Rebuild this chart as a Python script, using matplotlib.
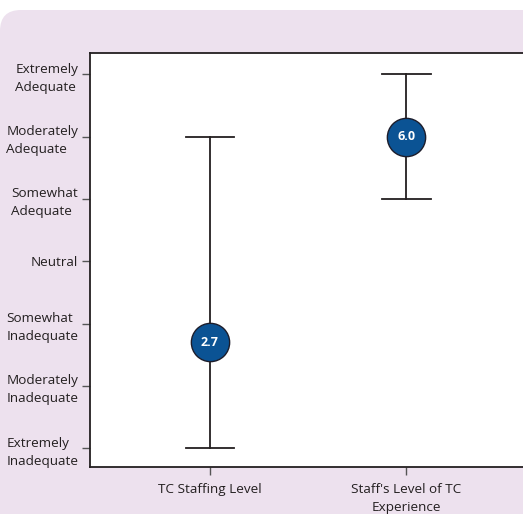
import matplotlib.pyplot as plt
from matplotlib.patches import FancyBboxPatch

categories = ["TC Staffing Level", "Staff's Level of TC\nExperience"]
means = [2.7, 6.0]
lows = [1.0, 5.0]
highs = [6.0, 7.0]
tick_values = [1, 2, 3, 4, 5, 6, 7]
tick_labels = ["Extremely\nInadequate", "Moderately\nInadequate", "Somewhat\nInadequate",
               "Neutral", "Somewhat\nAdequate", "Moderately\nAdequate", "Extremely\nAdequate"]

plt.rcParams['font.family'] = ['Open Sans', 'DejaVu Sans']

fig = plt.figure(figsize=(5.23, 5.14), dpi=100)
W, H = 523, 514

# purple panel with rounded top-left corner (other corners pushed off-canvas)
panel = FancyBboxPatch((0, -0.2), 1.2, 1.2 - 10 / H, boxstyle="round,pad=0,rounding_size=0.04",
                       transform=fig.transFigure, facecolor='#ede1ee', edgecolor='none',
                       mutation_aspect=W / H, zorder=-5)
fig.patches.append(panel)

ax = fig.add_axes([90 / W, 1 - 467 / H, (W - 90) / W + 0.01, (467 - 53) / H])
ax.set_zorder(2)
ax.set_facecolor('white')

x = [1, 2]
for xi, m, lo, hi in zip(x, means, lows, highs):
    ax.plot([xi, xi], [lo, hi], color='#231f20', lw=1.3, zorder=2)
    for y in (lo, hi):
        ax.plot([xi - 0.123, xi + 0.123], [y, y], color='#231f20', lw=1.3, zorder=2)
    ax.scatter([xi], [m], s=760, color='#0b5394', edgecolors='#1d1d2b', linewidths=1.0, zorder=3)
    ax.text(xi, m, f"{m:.1f}", color='white', fontsize=9, fontweight='bold',
            ha='center', va='center', zorder=4)

ax.set_xlim(0.39, 2.62)
ax.set_ylim(0.70, 7.34)
ax.set_yticks(tick_values)
ax.set_yticklabels(tick_labels, fontsize=9.7, color='#231f20', linespacing=1.5)
for lab in ax.get_yticklabels():
    lab.set_multialignment('left')
ax.tick_params(axis='y', pad=3, length=5.5, width=1, color='#555555')
ax.set_xticks(x)
ax.set_xticklabels(categories, fontsize=9.7, color='#231f20', linespacing=1.5)
ax.tick_params(axis='x', length=5.5, width=1, color='#555555', pad=6)

ax.spines['right'].set_visible(False)
for s in ['left', 'top', 'bottom']:
    ax.spines[s].set_color('#231f20')
    ax.spines[s].set_linewidth(1.3)

fig.savefig('out.png', dpi=100)
